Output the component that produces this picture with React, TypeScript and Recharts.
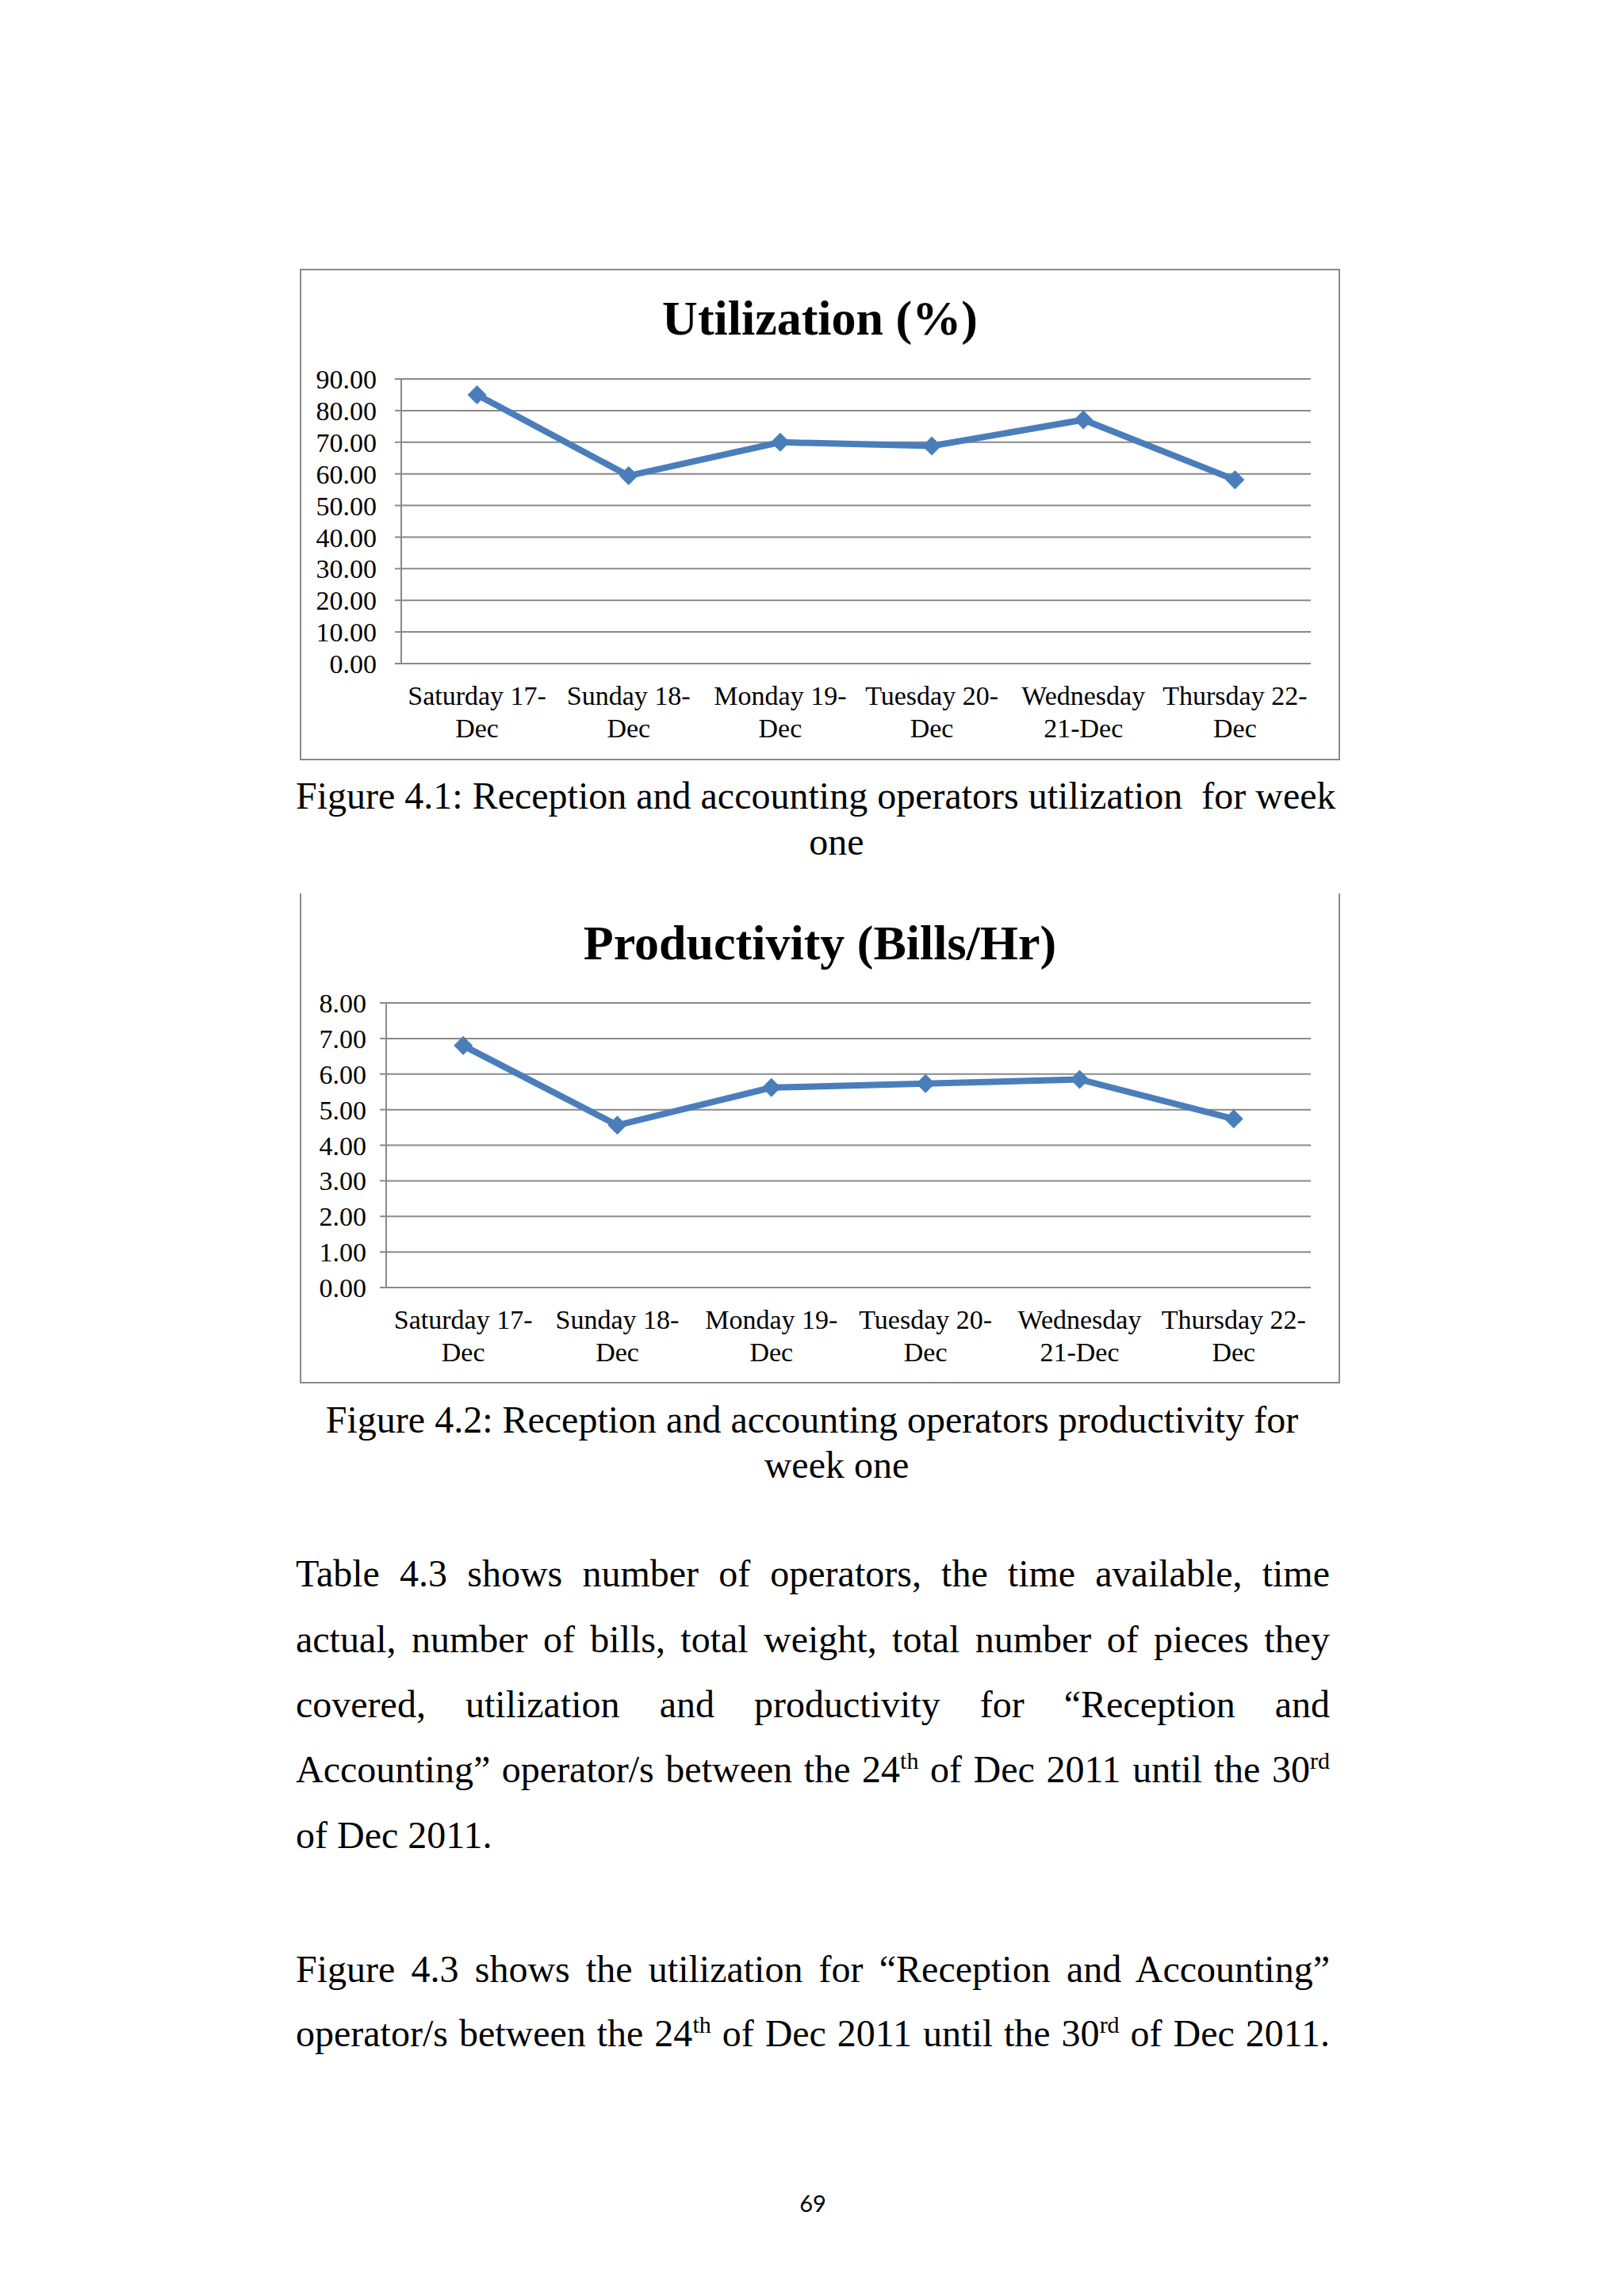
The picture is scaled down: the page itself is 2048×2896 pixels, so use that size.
import React from 'react';
import { CartesianGrid, Line, LineChart, XAxis, YAxis } from 'recharts';

const dayLines = [
    ['Saturday 17-', 'Dec'],
    ['Sunday 18-', 'Dec'],
    ['Monday 19-', 'Dec'],
    ['Tuesday 20-', 'Dec'],
    ['Wednesday', '21-Dec'],
    ['Thursday 22-', 'Dec'],
];
const dayEdges = [0, 1, 2, 3, 4, 5, 6];
const dayMiddles = [0.5, 1.5, 2.5, 3.5, 4.5, 5.5];

const utilization = [85.0, 59.4, 70.0, 68.8, 77.1, 58.1];
const utilTicks = [0, 10, 20, 30, 40, 50, 60, 70, 80, 90];

const productivity = [6.8, 4.56, 5.62, 5.73, 5.85, 4.74];
const prodTicks = [0, 1, 2, 3, 4, 5, 6, 7, 8];

const serif = "'Liberation Serif', 'Times New Roman', serif";
const blue = '#4a7ebb';
const grey = '#898989';

const Diamond = (props: any) => {
    const { cx, cy, index } = props;
    if (cx == null || cy == null) return null;
    const r = 12;
    return (
        <polygon
            key={`dot-${index}`}
            points={`${cx},${cy - r} ${cx + r},${cy} ${cx},${cy + r} ${cx - r},${cy}`}
            fill={blue}
        />
    );
};

const DayTick = (props: any) => {
    const { x, y, payload } = props;
    const lines = dayLines[Math.floor(payload.value)] || ['', ''];
    return (
        <text x={x} y={y} textAnchor="middle" fill="#000" fontSize={34} fontFamily={serif}>
            <tspan x={x} dy={52}>{lines[0]}</tspan>
            <tspan x={x} dy={41}>{lines[1]}</tspan>
        </text>
    );
};

type ChartProps = {
    title: string;
    values: number[];
    ticks: number[];
    left: number;
    top: number;
    height: number;
    plotLeft: number;
    plotTop: number;
    labelArea: number;
    labelGap: number;
    openTop?: boolean;
};

function WeekChart({ title, values, ticks, left, top, height, plotLeft, plotTop, labelArea, labelGap, openTop }: ChartProps) {
    const width = 1312;
    const data = values.map((v, i) => ({ x: dayMiddles[i], value: v }));
    return (
        <div style={{ position: 'absolute', left, top, width, height }}>
            <div
                style={{
                    position: 'absolute',
                    inset: 0,
                    border: `2px solid ${grey}`,
                    borderTop: openTop ? 'none' : `2px solid ${grey}`,
                }}
            />
            <div
                style={{
                    position: 'absolute',
                    left: 0,
                    width,
                    top: 28,
                    textAlign: 'center',
                    fontFamily: serif,
                    fontWeight: 'bold',
                    fontSize: 62,
                    lineHeight: '68px',
                    color: '#000',
                }}
            >
                {title}
            </div>
            <div style={{ position: 'absolute', left: 0, top: 0 }}>
                <LineChart
                    width={width}
                    height={height}
                    data={data}
                    margin={{ top: plotTop, right: 37, left: 0, bottom: 0 }}
                >
                    <CartesianGrid horizontal vertical={false} stroke={grey} strokeWidth={2} />
                    {/* tick marks sit on the day boundaries, labels in the middle */}
                    <XAxis
                        dataKey="x"
                        type="number"
                        domain={[0, 6]}
                        ticks={dayEdges}
                        interval={0}
                        height={0}
                        tick={false}
                        tickSize={10}
                        axisLine={{ stroke: grey, strokeWidth: 2 }}
                        tickLine={{ stroke: grey, strokeWidth: 2 }}
                    />
                    <XAxis
                        xAxisId="labels"
                        dataKey="x"
                        type="number"
                        domain={[0, 6]}
                        ticks={dayMiddles}
                        interval={0}
                        height={labelArea}
                        axisLine={false}
                        tickLine={false}
                        tickSize={0}
                        tickMargin={0}
                        tick={<DayTick />}
                    />
                    <YAxis
                        type="number"
                        domain={[ticks[0], ticks[ticks.length - 1]]}
                        ticks={ticks}
                        interval={0}
                        width={plotLeft}
                        tickSize={8}
                        tickMargin={labelGap}
                        tickFormatter={(v: number) => v.toFixed(2)}
                        tick={{ fill: '#000', fontSize: 34, fontFamily: serif }}
                        axisLine={{ stroke: grey, strokeWidth: 2 }}
                        tickLine={{ stroke: grey, strokeWidth: 2 }}
                    />
                    <Line
                        type="linear"
                        dataKey="value"
                        stroke={blue}
                        strokeWidth={8}
                        dot={Diamond}
                        activeDot={false}
                        isAnimationActive={false}
                    />
                </LineChart>
            </div>
        </div>
    );
}

const lineStyle = (top: number): React.CSSProperties => ({
    position: 'absolute',
    left: 373,
    width: 1304,
    top,
    fontFamily: serif,
    fontSize: 48,
    lineHeight: '48px',
    color: '#000',
    whiteSpace: 'nowrap',
});

const justified = (top: number): React.CSSProperties => ({
    ...lineStyle(top),
    textAlign: 'justify',
    textAlignLast: 'justify',
    whiteSpace: 'normal',
});

const supStyle: React.CSSProperties = { fontSize: 30, lineHeight: 0, verticalAlign: 'super' };

export default function App() {
    return (
        <div
            style={{
                position: 'absolute',
                left: 0,
                top: 0,
                width: 2048,
                height: 2896,
                background: '#fff',
                overflow: 'hidden',
            }}
        >
            <WeekChart
                title="Utilization (%)"
                values={utilization}
                ticks={utilTicks}
                left={378}
                top={339}
                height={620}
                plotLeft={128}
                plotTop={139}
                labelArea={122}
                labelGap={23}
            />
            <div style={{ ...lineStyle(980), left: 373, width: 1300, textAlign: 'center' }}>
                Figure 4.1: Reception and accounting operators utilization&nbsp; for week
            </div>
            <div style={{ ...lineStyle(1038), left: 955, width: 200, textAlign: 'center' }}>one</div>

            <WeekChart
                title="Productivity (Bills/Hr)"
                values={productivity}
                ticks={prodTicks}
                left={378}
                top={1127}
                height={618}
                plotLeft={109}
                plotTop={138}
                labelArea={121}
                labelGap={17}
                openTop
            />
            <div style={{ ...lineStyle(1767), left: 406, width: 1236, textAlign: 'center' }}>
                Figure 4.2: Reception and accounting operators productivity for
            </div>
            <div style={{ ...lineStyle(1824), left: 905, width: 300, textAlign: 'center' }}>week one</div>

            <div style={justified(1961)}>Table 4.3 shows number of operators, the time available, time</div>
            <div style={justified(2044)}>actual, number of bills, total weight, total number of pieces they</div>
            <div style={justified(2126)}>covered, utilization and productivity for “Reception and</div>
            <div style={justified(2208)}>
                Accounting” operator/s between the 24<span style={supStyle}>th</span> of Dec 2011 until the 30
                <span style={supStyle}>rd</span>
            </div>
            <div style={lineStyle(2291)}>of Dec 2011.</div>

            <div style={justified(2460)}>Figure 4.3 shows the utilization for “Reception and Accounting”</div>
            <div style={justified(2541)}>
                operator/s between the 24<span style={supStyle}>th</span> of Dec 2011 until the 30
                <span style={supStyle}>rd</span> of Dec 2011.
            </div>

            <div
                style={{
                    position: 'absolute',
                    left: 975,
                    width: 100,
                    top: 2762,
                    textAlign: 'center',
                    fontFamily: "Lato, 'Open Sans', sans-serif",
                    fontSize: 29,
                    lineHeight: '34px',
                    color: '#000',
                }}
            >
                69
            </div>
        </div>
    );
}
